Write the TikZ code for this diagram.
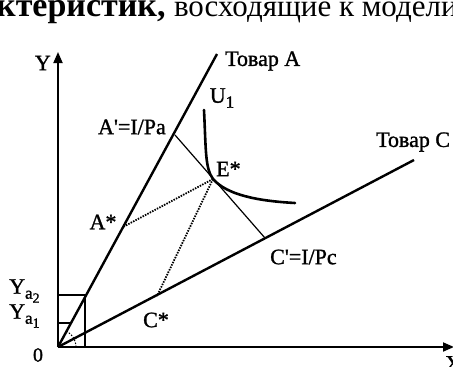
\documentclass[tikz,border=0pt]{standalone}
\usepackage{fontspec}
\setmainfont{Liberation Serif}
\newfontfamily\scanfont{Liberation Serif}[FakeBold=1.2]
\usetikzlibrary{arrows.meta}
\tikzset{
  axis/.style={line width=1.8pt, -{Triangle[length=11pt,width=9pt]}},
  ray/.style={line width=2.4pt},
  budget/.style={line width=1.2pt},
  guide/.style={line width=1.8pt, dash pattern=on 1.5pt off 1.2pt},
  lbl/.style={font=\scanfont\fontsize{22}{22}\selectfont, inner sep=0pt}
}
\newcommand{\subsc}[1]{\raisebox{-5pt}{\fontsize{17}{17}\selectfont #1}}
\newcommand{\subsub}[1]{\raisebox{-4pt}{\fontsize{14}{14}\selectfont #1}}
\begin{document}
\begin{tikzpicture}[x=1pt, y=-1pt]
  \useasboundingbox (0,0) rectangle (453,367);
  \clip (0,0) rectangle (453,367);

  % heading, cut off by the page
  \node[anchor=base west, inner sep=0pt] (head) at (-4,16)
    {\fontsize{34}{34}\selectfont\textbf{ктеристик,} \fontsize{31}{31}\selectfont восходящие к модели};

  % axes
  \coordinate (O) at (58,347);
  \draw[axis] (O) -- (58,52) coordinate (ytip);
  \draw[axis] (O) -- (454,347) coordinate (xtip);
  \node[lbl, anchor=east] (ylab) at (51,63) {Y};
  \node[lbl, anchor=north west] (xlab) at (445,356) {X};
  \node[lbl, font=\scanfont\fontsize{20}{20}\selectfont] (zero) at (38,355) {0};

  % goods rays
  \coordinate (Aend) at (217,54);
  \coordinate (Cend) at (414,160);
  \draw[ray] (O) -- (Aend);
  \draw[ray] (O) -- (Cend);
  \node[lbl, anchor=west] (tovA) at (225,61) {Товар A};
  \node[lbl, anchor=west] (tovC) at (376,142) {Товар C};

  % budget line
  \coordinate (Ap) at (175,135);
  \coordinate (Cp) at (265,238);
  \draw[budget] (Ap) -- (Cp);
  \node[lbl, anchor=east] (Aplab) at (166,127) {A'=I/Pa};
  \node[lbl, anchor=west] (Cplab) at (270,257) {C'=I/Pc};

  % indifference curve U1
  \coordinate (E) at (213,179);
  \draw[line width=2.6pt, line cap=round] (204,110) .. controls (206,150) and (205,168) .. (E)
    .. controls (227,195) and (258,201) .. (295,203);
  \node[lbl] (ulab) at (222,98) {U\subsc{1}};
  \node[lbl, anchor=west] (elab) at (216,169) {E*};

  % optimal points on the rays
  \coordinate (As) at (123,227);
  \coordinate (Cs) at (157,296);
  \draw[guide] (E) -- (As);
  \draw[guide] (E) -- (Cs);
  \node[lbl] (aslab) at (103,222) {A*};
  \node[lbl] (cslab) at (156,320) {C*};

  % small boxes near the origin
  \draw[line width=1.4pt] (58,295) -- (85,295) -- (85,347);
  \draw[line width=1.4pt] (58,323) -- (71,323);
  \draw[line width=1pt, dash pattern=on 1.5pt off 1.5pt] (76,347) arc[start angle=0, end angle=-60, radius=18];
  \node[lbl, anchor=west] (ya2) at (9,291) {Y\subsc{a\subsub{2}}};
  \node[lbl, anchor=west] (ya1) at (9,316) {Y\subsc{a\subsub{1}}};
\end{tikzpicture}
\end{document}
